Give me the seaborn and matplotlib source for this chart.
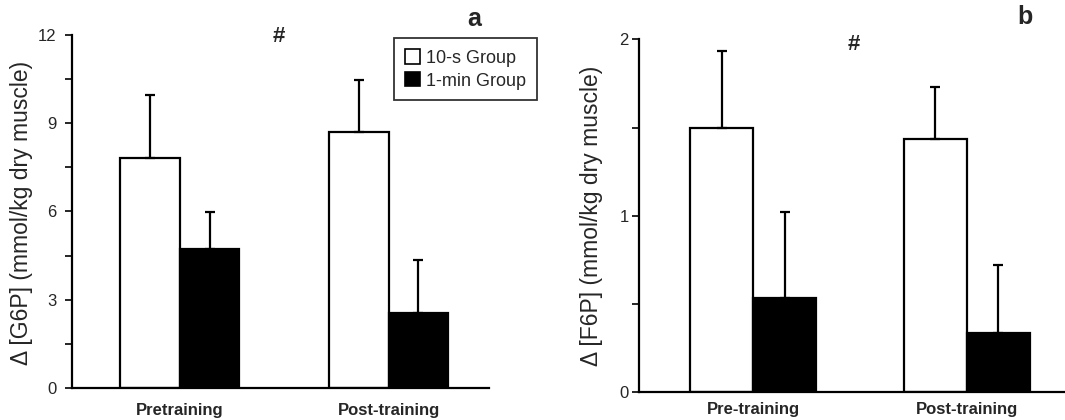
import numpy as np
import pandas as pd
import matplotlib
matplotlib.use("Agg")
import matplotlib.pyplot as plt
from matplotlib.patches import Patch
import seaborn as sns

# values
phases_a = ["Pretraining", "Post-training"]
phases_b = ["Pre-training", "Post-training"]
groups = ["10-s Group", "1-min Group"]
g6p_10s = [7.83, 8.70]
g6p_1min = [4.72, 2.54]
g6p_10s_sd = [2.11, 1.77]
g6p_1min_sd = [1.27, 1.82]
f6p_10s = [1.497, 1.437]
f6p_1min = [0.533, 0.336]
f6p_10s_sd = [0.437, 0.293]
f6p_1min_sd = [0.488, 0.382]

sns.set_theme(style="ticks")
plt.rcParams["font.family"] = ["Liberation Sans", "DejaVu Sans"]


def make_df(phases, a, b, sa, sb):
    return pd.DataFrame({
        "phase": phases * 2,
        "group": [groups[0]] * 2 + [groups[1]] * 2,
        "value": a + b,
        "sd": sa + sb,
    })


def draw_panel(ax, df, phases, ymax, major, minor, ylabel, xlim, width, tickpad, ypad):
    sns.barplot(data=df, x="phase", y="value", hue="group", order=phases,
                hue_order=groups, palette=["white", "black"], edgecolor="black",
                linewidth=1.6, width=width, errorbar=None, legend=False,
                saturation=1, ax=ax)
    for cont, g in zip(ax.containers, groups):
        sub = df[df["group"] == g].set_index("phase").loc[phases]
        xs = [p.get_x() + p.get_width() / 2 for p in cont.patches]
        ax.errorbar(xs, sub["value"], yerr=[np.zeros(len(xs)), sub["sd"]],
                    fmt="none", ecolor="black", elinewidth=1.6, capsize=3.5,
                    capthick=1.6, zorder=1)
    ax.set_ylim(0, ymax)
    ax.set_xlim(*xlim)
    ax.set_yticks(np.arange(0, ymax + 1e-9, major))
    ax.set_yticks(np.arange(0, ymax + 1e-9, minor), minor=True)
    ax.yaxis.set_major_formatter(matplotlib.ticker.FormatStrFormatter("%g"))
    ax.tick_params(axis="y", which="both", direction="out", length=5, width=1.4,
                   labelsize=12, pad=ypad)
    ax.tick_params(axis="x", length=0, labelsize=12, pad=tickpad)
    for lab in ax.get_xticklabels():
        lab.set_fontweight("bold")
    ax.set_xlabel("")
    ax.set_ylabel(ylabel, fontsize=16.5)
    for s in ["left", "bottom"]:
        ax.spines[s].set_linewidth(1.6)
        ax.spines[s].set_color("black")
    sns.despine(ax=ax)


fig = plt.figure(figsize=(10.65, 4.2), dpi=100)
ax1 = fig.add_axes([0.0676, 0.076, 0.392, 0.841])
ax2 = fig.add_axes([0.600, 0.067, 0.400, 0.839])

draw_panel(ax1, make_df(phases_a, g6p_10s, g6p_1min, g6p_10s_sd, g6p_1min_sd),
           phases_a, 12, 3, 1.5, "Δ [G6P] (mmol/kg dry muscle)",
           (-0.517, 1.483), 0.57, 11, 6)
draw_panel(ax2, make_df(phases_b, f6p_10s, f6p_1min, f6p_10s_sd, f6p_1min_sd),
           phases_b, 2, 1, 0.5, "Δ [F6P] (mmol/kg dry muscle)",
           (-0.536, 1.459), 0.59, 7, 2.5)
ax1.yaxis.set_label_coords(-0.093, 0.496)
ax2.yaxis.set_label_coords(-0.085, 0.5)

handles = [Patch(facecolor="white", edgecolor="black", linewidth=1.2),
           Patch(facecolor="black", edgecolor="black", linewidth=1.2)]
leg = ax1.legend(handles, groups, loc="upper left", bbox_to_anchor=(0.772, 0.99),
                 fontsize=13, frameon=True, fancybox=False, handlelength=0.85,
                 handleheight=0.85, handletextpad=0.3, labelspacing=0.3,
                 borderpad=0.6, borderaxespad=0)
leg.get_frame().set_edgecolor("black")
leg.get_frame().set_linewidth(1.3)

fig.text(474 / 1065, 1 - 19 / 420, "a", fontsize=18, fontweight="bold",
         ha="center", va="center")
fig.text(1025 / 1065, 1 - 17 / 420, "b", fontsize=18, fontweight="bold",
         ha="center", va="center")
fig.text(279 / 1065, 1 - 37 / 420, "#", fontsize=16, fontweight="bold",
         ha="center", va="center")
fig.text(854 / 1065, 1 - 45 / 420, "#", fontsize=16, fontweight="bold",
         ha="center", va="center")

fig.savefig("out.png", dpi=100)
